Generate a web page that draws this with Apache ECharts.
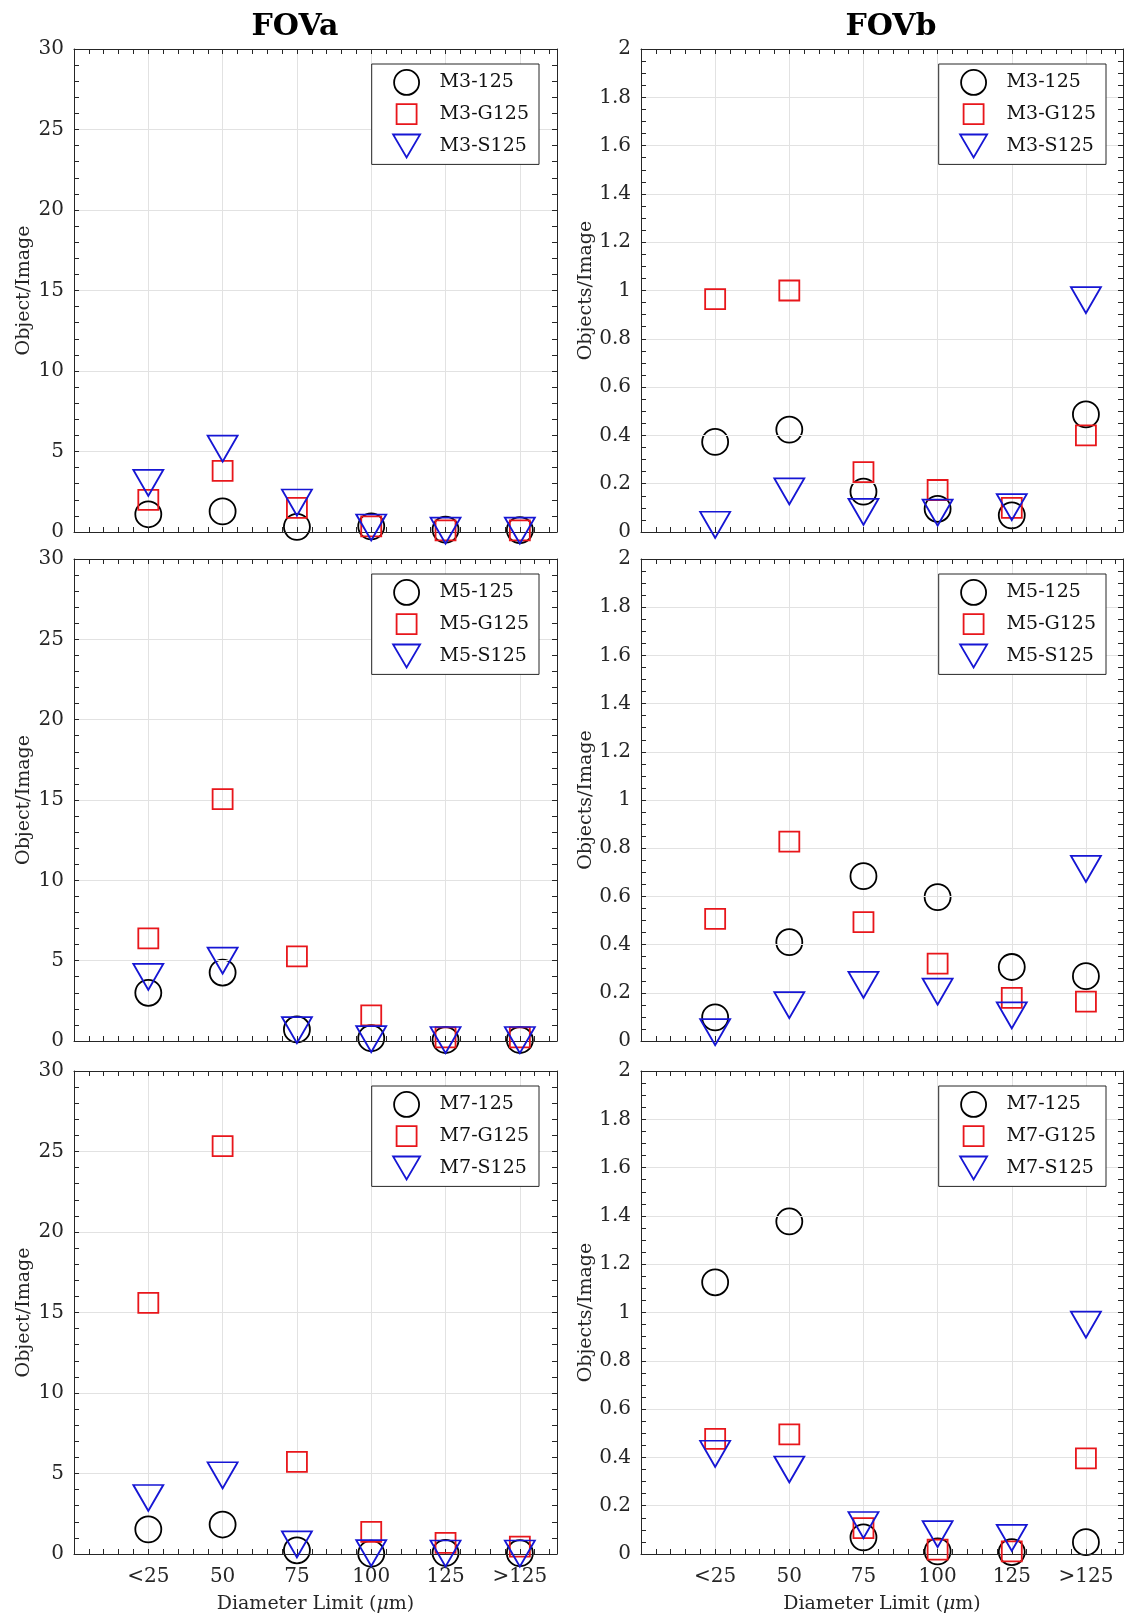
<!DOCTYPE html>
<html>
<head>
<meta charset="utf-8">
<script src="https://cdn.jsdelivr.net/npm/echarts@6/dist/echarts.min.js"></script>
<style>
html,body{margin:0;padding:0;background:#fff;}
#chart{width:1126px;height:1618px;}
</style>
</head>
<body>
<div id="chart"></div>
<script>
// ---------- data ----------
const categories = ['<25', '50', '75', '100', '125', '>125'];
const xPositions = [1, 2, 3, 4, 5, 6];
const columnTitles = ['FOVa', 'FOVb'];
const yNames = ['Object/Image', 'Objects/Image'];

// FOVa (left column)
const fovaM3_125  = [1.10, 1.28, 0.32, 0.35, 0.15, 0.12];
const fovaM3_G125 = [1.99, 3.80, 1.50, 0.35, 0.10, 0.10];
const fovaM3_S125 = [3.05, 5.18, 1.83, 0.28, 0.08, 0.08];

const fovaM5_125  = [3.00, 4.26, 0.72, 0.17, 0.06, 0.06];
const fovaM5_G125 = [6.39, 15.05, 5.27, 1.59, 0.23, 0.23];
const fovaM5_S125 = [3.99, 5.00, 0.68, 0.12, 0.06, 0.06];

const fovaM7_125  = [1.53, 1.83, 0.23, 0.02, 0.07, 0.05];
const fovaM7_G125 = [15.60, 25.34, 5.72, 1.37, 0.69, 0.46];
const fovaM7_S125 = [3.48, 4.89, 0.60, 0.05, 0.03, 0.03];

// FOVb (right column)
const fovbM3_125  = [0.373, 0.424, 0.167, 0.096, 0.069, 0.487];
const fovbM3_G125 = [0.964, 1.000, 0.248, 0.174, 0.100, 0.400];
const fovbM3_S125 = [0.030, 0.168, 0.083, 0.080, 0.103, 0.960];

const fovbM5_125  = [0.098, 0.410, 0.684, 0.597, 0.307, 0.269];
const fovbM5_G125 = [0.507, 0.827, 0.493, 0.321, 0.179, 0.163];
const fovbM5_S125 = [0.037, 0.149, 0.233, 0.205, 0.106, 0.714];

const fovbM7_125  = [1.125, 1.377, 0.069, 0.011, 0.008, 0.049];
const fovbM7_G125 = [0.477, 0.495, 0.107, 0.018, 0.011, 0.396];
const fovbM7_S125 = [0.415, 0.350, 0.120, 0.082, 0.067, 0.950];

const yScaleA = {min: 0, max: 30, interval: 5, minor: 5};
const yScaleB = {min: 0, max: 2, interval: 0.2, minor: 4};

const panels = [
  {row: 0, col: 0, names: ['M3-125', 'M3-G125', 'M3-S125'], vals: [fovaM3_125, fovaM3_G125, fovaM3_S125]},
  {row: 0, col: 1, names: ['M3-125', 'M3-G125', 'M3-S125'], vals: [fovbM3_125, fovbM3_G125, fovbM3_S125]},
  {row: 1, col: 0, names: ['M5-125', 'M5-G125', 'M5-S125'], vals: [fovaM5_125, fovaM5_G125, fovaM5_S125]},
  {row: 1, col: 1, names: ['M5-125', 'M5-G125', 'M5-S125'], vals: [fovbM5_125, fovbM5_G125, fovbM5_S125]},
  {row: 2, col: 0, names: ['M7-125', 'M7-G125', 'M7-S125'], vals: [fovaM7_125, fovaM7_G125, fovaM7_S125]},
  {row: 2, col: 1, names: ['M7-125', 'M7-G125', 'M7-S125'], vals: [fovbM7_125, fovbM7_G125, fovbM7_S125]}
];

// ---------- layout & style ----------
const FONT = 'DejaVu Serif';
const AX = '#262626';
const GRIDC = '#e2e2e2';
const colLeft = [74, 641];
const colWidth = [483, 482];
const rowTop = [49, 559, 1071];
const rowH = [483, 482, 483];
const legendRight = [587, 20];
const titleX = [295, 891];

const markerColors = ['#000000', '#e8161b', '#1616d4'];
const markerSymbols = ['circle', 'rect', 'path://M0,0L30,0L15,26Z'];
const markerSizes = [26, 20, [30, 26]];
const legendIcons = [
  'path://M0,0M56,27M15.5,13.5A12.5,12.5,0,1,1,40.5,13.5A12.5,12.5,0,1,1,15.5,13.5Z',
  'path://M0,0M56,27M18,3.5H38V23.5H18Z',
  'path://M0,0M56,27M14.5,2H41.5L28,25Z'
];

function catLabel(v) {
  const r = Math.round(v);
  if (Math.abs(v - r) < 1e-6 && r >= 1 && r <= categories.length) return categories[r - 1];
  return '';
}

const grid = [], xAxis = [], yAxis = [], series = [], legend = [];

panels.forEach((p, i) => {
  const isB = p.col === 1;
  const bottomRow = p.row === 2;
  const ys = isB ? yScaleB : yScaleA;
  grid.push({
    left: colLeft[p.col], top: rowTop[p.row], width: colWidth[p.col], height: rowH[p.row],
    containLabel: false, outerBoundsMode: 'none'
  });
  const lineStyle = {color: AX, width: 1};
  const xBase = {gridIndex: i, type: 'value', min: 0, max: 6.5};

  const xi = xAxis.length;
  xAxis.push(Object.assign({}, xBase, {
    position: 'bottom', interval: 0.2, z: 3,
    axisLine: {show: true, onZero: false, lineStyle},
    axisTick: {show: true, inside: true, length: 5, lineStyle},
    minorTick: {show: false},
    splitLine: {show: false},
    axisLabel: {show: bottomRow, margin: 13, fontFamily: FONT, fontSize: 20, color: AX, formatter: catLabel,
                showMinLabel: true, showMaxLabel: true, hideOverlap: false},
    name: bottomRow ? '{a|Diameter Limit (}{b|μ}{a|m)}' : '',
    nameLocation: 'middle', nameGap: 41,
    nameTextStyle: {color: AX, rich: {
      a: {fontFamily: FONT, fontSize: 19, color: AX},
      b: {fontFamily: FONT, fontSize: 19, color: AX, fontStyle: 'italic'}
    }}
  }));
  xAxis.push(Object.assign({}, xBase, {
    position: 'top', interval: 0.2, z: 3,
    axisLine: {show: true, onZero: false, lineStyle},
    axisTick: {show: true, inside: true, length: 5, lineStyle},
    axisLabel: {show: false},
    splitLine: {show: false}
  }));
  xAxis.push(Object.assign({}, xBase, {
    position: 'bottom', interval: 1, z: 0,
    axisLine: {show: false, onZero: false},
    axisTick: {show: false},
    axisLabel: {show: false},
    splitLine: {show: true, showMinLine: false, showMaxLine: false, lineStyle: {color: GRIDC, width: 1}}
  }));

  const yi = yAxis.length;
  yAxis.push({
    gridIndex: i, type: 'value', position: 'left', min: ys.min, max: ys.max, interval: ys.interval, z: 3,
    axisLine: {show: true, onZero: false, lineStyle},
    axisTick: {show: true, inside: true, length: 5, lineStyle},
    minorTick: {show: true, splitNumber: ys.minor, length: 5, lineStyle: {color: AX, width: 1}},
    splitLine: {show: true, showMinLine: false, showMaxLine: false, lineStyle: {color: GRIDC, width: 1}},
    minorSplitLine: {show: false},
    axisLabel: {margin: 10, fontFamily: FONT, fontSize: 20, color: AX, showMinLabel: true, showMaxLabel: true},
    name: yNames[p.col], nameLocation: 'middle', nameGap: isB ? 45 : 40,
    nameTextStyle: {fontFamily: FONT, fontSize: 19, color: AX}
  });
  yAxis.push({
    gridIndex: i, type: 'value', position: 'right', min: ys.min, max: ys.max, interval: ys.interval, z: 3,
    axisLine: {show: true, onZero: false, lineStyle},
    axisTick: {show: true, inside: true, length: 5, lineStyle},
    minorTick: {show: true, splitNumber: ys.minor, length: 5, lineStyle: {color: AX, width: 1}},
    splitLine: {show: false},
    axisLabel: {show: false}
  });

  p.vals.forEach((vals, k) => {
    series.push({
      type: 'scatter', name: p.names[k], xAxisIndex: xi, yAxisIndex: yi,
      data: vals.map((v, j) => [xPositions[j], v]),
      symbol: markerSymbols[k], symbolSize: markerSizes[k],
      itemStyle: {color: 'rgba(0,0,0,0)', borderColor: markerColors[k], borderWidth: 1.8, opacity: 1},
      emphasis: {disabled: true}, clip: false, z: 2 + k, silent: true
    });
  });

  legend.push({
    orient: 'vertical', right: legendRight[p.col], top: rowTop[p.row] + 15,
    itemWidth: 56, itemHeight: 27, itemGap: 3, padding: [4, 10, 4, 6],
    backgroundColor: '#ffffff', borderColor: AX, borderWidth: 1, borderRadius: 0,
    textStyle: {fontFamily: FONT, fontSize: 19, color: '#111'},
    selectedMode: false,
    data: p.names.map((n, k) => ({
      name: n, icon: legendIcons[k],
      itemStyle: {color: 'rgba(0,0,0,0)', borderColor: markerColors[k], borderWidth: 1.8}
    }))
  });
});

const graphic = columnTitles.map((t, c) => ({
  type: 'text', x: titleX[c], y: 27,
  style: {text: t, fontFamily: FONT, fontWeight: 'bold', fontSize: 30, fill: '#000', align: 'center', verticalAlign: 'middle'}
}));

const chart = echarts.init(document.getElementById('chart'), null, {renderer: 'canvas'});
chart.setOption({
  animation: false,
  backgroundColor: '#ffffff',
  grid, xAxis, yAxis, series, legend, graphic,
  tooltip: {show: false}
});
</script>
</body>
</html>
